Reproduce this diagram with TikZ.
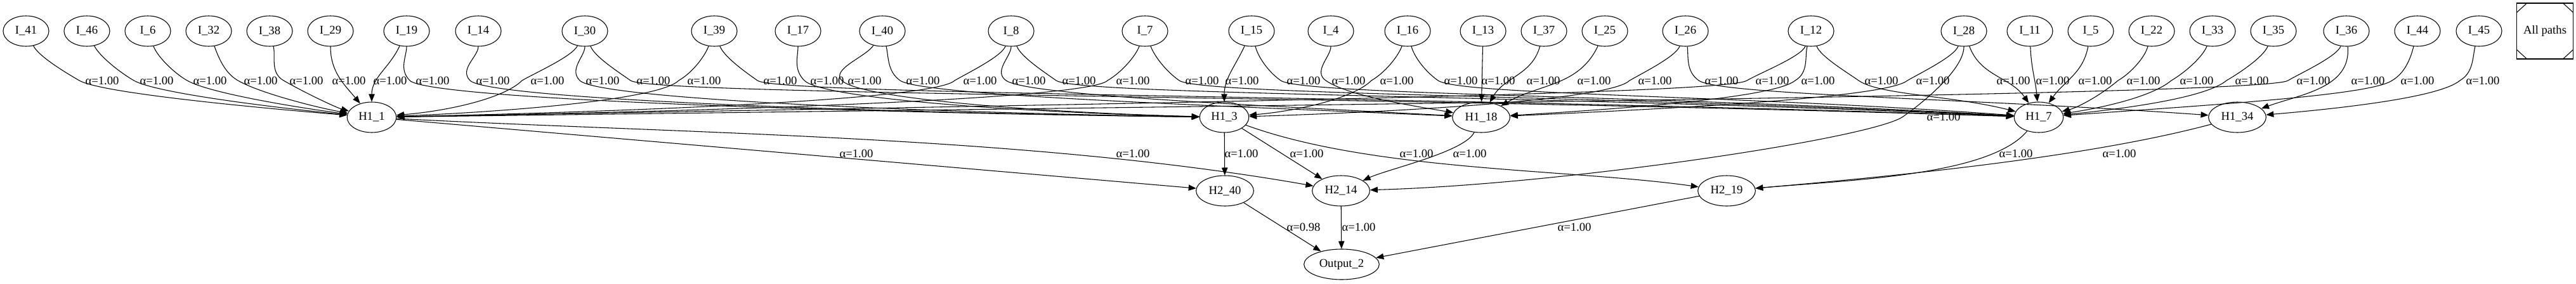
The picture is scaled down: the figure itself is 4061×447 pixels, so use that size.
\documentclass[tikz,border=0pt]{standalone}
\usepackage{fontspec}
\setmainfont{Liberation Serif}
\usetikzlibrary{shapes.geometric,arrows.meta}
\tikzset{
  neuron/.style={draw,ellipse,line width=0.8pt,minimum width=54pt,minimum height=36pt,
    inner xsep=5pt,font=\fontsize{14}{16}\selectfont},
  wlabel/.style={inner sep=0pt,font=\fontsize{14}{16}\selectfont},
  conn/.style={line width=0.8pt,-{Triangle[length=9pt,width=7pt]}},
  pathsbox/.style={draw,line width=0.8pt,minimum width=66.75pt,minimum height=66pt,
    font=\fontsize{14}{16}\selectfont,
    path picture={
      \draw (path picture bounding box.north west) ++(0,-11pt) -- ++(12pt,11pt);
      \draw (path picture bounding box.north east) ++(-12pt,0) -- ++(12pt,-11pt);
      \draw (path picture bounding box.south west) ++(0,11pt) -- ++(12pt,-11pt);
      \draw (path picture bounding box.south east) ++(-12pt,0) -- ++(12pt,11pt);}},
}
\begin{document}
\begin{tikzpicture}[x=0.75pt,y=0.75pt]
  \useasboundingbox (0,0) rectangle (4061,-447);
  % input layer
  \node[neuron] (I41) at (41,-49) {I\_41};
  \node[neuron] (I46) at (137,-49) {I\_46};
  \node[neuron] (I6) at (233,-49) {I\_6};
  \node[neuron] (I32) at (329,-49) {I\_32};
  \node[neuron] (I38) at (425,-49) {I\_38};
  \node[neuron] (I29) at (521,-49) {I\_29};
  \node[neuron] (I19) at (641,-49) {I\_19};
  \node[neuron] (I14) at (754,-49) {I\_14};
  \node[neuron] (I30) at (922,-49) {I\_30};
  \node[neuron] (I39) at (1126,-49) {I\_39};
  \node[neuron] (I17) at (1258,-49) {I\_17};
  \node[neuron] (I40) at (1391,-49) {I\_40};
  \node[neuron] (I8) at (1594,-49) {I\_8};
  \node[neuron] (I7) at (1805,-49) {I\_7};
  \node[neuron] (I15) at (1973,-49) {I\_15};
  \node[neuron] (I4) at (2098,-49) {I\_4};
  \node[neuron] (I16) at (2219,-49) {I\_16};
  \node[neuron] (I13) at (2338,-49) {I\_13};
  \node[neuron] (I37) at (2434,-49) {I\_37};
  \node[neuron] (I25) at (2530,-49) {I\_25};
  \node[neuron] (I26) at (2657,-49) {I\_26};
  \node[neuron] (I12) at (2855,-49) {I\_12};
  \node[neuron] (I28) at (3096,-49) {I\_28};
  \node[neuron] (I11) at (3200,-49) {I\_11};
  \node[neuron] (I5) at (3296,-49) {I\_5};
  \node[neuron] (I22) at (3392,-49) {I\_22};
  \node[neuron] (I33) at (3488,-49) {I\_33};
  \node[neuron] (I35) at (3584,-49) {I\_35};
  \node[neuron] (I36) at (3699,-49) {I\_36};
  \node[neuron] (I44) at (3811,-49) {I\_44};
  \node[neuron] (I45) at (3908,-49) {I\_45};
  \node[pathsbox] (allp) at (4012,-49) {All paths};
  % hidden layers and output
  \node[neuron] (H11) at (586,-185) {H1\_1};
  \node[neuron] (H13) at (1930,-185) {H1\_3};
  \node[neuron] (H118) at (2335,-185) {H1\_18};
  \node[neuron] (H17) at (3214,-185) {H1\_7};
  \node[neuron] (H134) at (3527,-185) {H1\_34};
  \node[neuron] (H240) at (1931,-301) {H2\_40};
  \node[neuron] (H214) at (2114,-301) {H2\_14};
  \node[neuron] (H219) at (2722,-301) {H2\_19};
  \node[neuron] (out2) at (2115,-417) {Output\_2};

  % edges into H1_1
  \draw[conn] (I41) .. controls +(20,-40) and +(150:25) .. (125,-127) .. controls +(-30:40) and +(-180,15) .. (H11);
  \draw[conn] (I46) .. controls +(20,-40) and +(150:25) .. (211,-127) .. controls +(-30:40) and +(-150,15) .. (H11);
  \draw[conn] (I6) .. controls +(15,-40) and +(150:25) .. (295,-127) .. controls +(-30:40) and +(-115,15) .. (H11);
  \draw[conn] (I32) .. controls +(15,-40) and +(150:25) .. (375,-127) .. controls +(-30:40) and +(-85,15) .. (H11);
  \draw[conn] (I38) .. controls +(10,-40) and +(150:25) .. (447,-127) .. controls +(-30:40) and +(-55,15) .. (H11);
  \draw[conn] (I29) to[out=-90,in=130] (H11);
  \draw[conn] (I19) to[out=-115,in=90] (H11);
  \draw[conn] (I30) .. controls +(-20,-40) and +(30:25) .. (823,-127) .. controls +(225:40) and +(120,10) .. (H11);
  \draw[conn] (I39) .. controls +(-15,-40) and +(30:25) .. (1070,-127) .. controls +(225:40) and +(240,10) .. (H11);
  \draw[conn] (I8) .. controls +(-15,-40) and +(30:25) .. (1505,-127) .. controls +(225:40) and +(460,10) .. (H11);
  \draw[conn] (I7) .. controls +(-15,-40) and +(30:25) .. (1746,-127) .. controls +(225:40) and +(580,10) .. (H11);
  \draw[conn] (I12) .. controls +(-15,-40) and +(30:25) .. (2754,-127) .. controls +(215:40) and +(1080,20) .. (H11);
  \draw[conn] (I36) .. controls +(-15,-40) and +(30:25) .. (3607,-127) .. controls +(215:40) and +(1500,20) .. (H11);
  % edges into H1_3
  \draw[conn] (I19) .. controls +(0,-40) and +(135:25) .. (646,-127) .. controls +(-45:40) and +(-640,8) .. (H13);
  \draw[conn] (I14) .. controls +(0,-40) and +(135:25) .. (741,-127) .. controls +(-45:40) and +(-600,8) .. (H13);
  \draw[conn] (I30) .. controls +(0,-40) and +(135:25) .. (914,-127) .. controls +(-45:40) and +(-500,8) .. (H13);
  \draw[conn] (I17) .. controls +(0,-40) and +(135:25) .. (1268,-127) .. controls +(-45:40) and +(-330,8) .. (H13);
  \draw[conn] (I40) .. controls +(-25,-40) and +(135:25) .. (1327,-127) .. controls +(-45:40) and +(-300,8) .. (H13);
  \draw[conn] (I15) to[out=-115,in=90] (H13);
  \draw[conn] (I16) .. controls +(-15,-40) and +(30:25) .. (2162,-127) .. controls +(225:40) and +(115,10) .. (H13);
  \draw[conn] (I26) .. controls +(-15,-40) and +(30:25) .. (2569,-127) .. controls +(225:40) and +(320,10) .. (H13);
  % edges into H1_18
  \draw[conn] (I40) .. controls +(10,-40) and +(145:25) .. (1419,-127) .. controls +(-35:40) and +(-460,20) .. (H118);
  \draw[conn] (I8) .. controls +(0,-40) and +(145:25) .. (1586,-127) .. controls +(-35:40) and +(-375,20) .. (H118);
  \draw[conn] (I4) .. controls +(0,-40) and +(145:25) .. (2090,-127) .. controls +(-35:40) and +(-120,20) .. (H118);
  \draw[conn] (I13) -- (H118);
  \draw[conn] (I37) to[out=-105,in=60] (H118);
  \draw[conn] (I25) to[out=-115,in=30] (H118);
  \draw[conn] (I12) .. controls +(-10,-40) and +(30:25) .. (2830,-127) .. controls +(220:40) and +(250,15) .. (H118);
  \draw[conn] (I28) .. controls +(-15,-40) and +(30:25) .. (3007,-127) .. controls +(220:40) and +(335,15) .. (H118);
  % edges into H1_7
  \draw[conn] (I30) .. controls +(15,-40) and +(145:25) .. (994,-127) .. controls +(-35:40) and +(-1100,35) .. (H17);
  \draw[conn] (I39) .. controls +(15,-40) and +(145:25) .. (1194,-127) .. controls +(-35:40) and +(-1000,35) .. (H17);
  \draw[conn] (I8) .. controls +(15,-40) and +(145:25) .. (1665,-127) .. controls +(-35:40) and +(-770,35) .. (H17);
  \draw[conn] (I7) .. controls +(15,-40) and +(145:25) .. (1859,-127) .. controls +(-35:40) and +(-680,35) .. (H17);
  \draw[conn] (I15) .. controls +(10,-40) and +(145:25) .. (2019,-127) .. controls +(-35:40) and +(-600,35) .. (H17);
  \draw[conn] (I16) .. controls +(10,-40) and +(145:25) .. (2267,-127) .. controls +(-35:40) and +(-470,35) .. (H17);
  \draw[conn] (I12) .. controls +(15,-40) and +(145:25) .. (2930,-127) .. controls +(-35:40) and +(-140,35) .. (H17);
  \draw[conn] (I28) to[out=-70,in=125] (H17);
  \draw[conn] (I11) to[out=-88,in=95] (H17);
  \draw[conn] (I5) to[out=-100,in=55] (H17);
  \draw[conn] (I22) .. controls +(-10,-40) and +(30:25) .. (3339,-127) .. controls +(220:40) and +(60,15) .. (H17);
  \draw[conn] (I33) .. controls +(-15,-40) and +(30:25) .. (3423,-127) .. controls +(220:40) and +(100,15) .. (H17);
  \draw[conn] (I35) .. controls +(-15,-40) and +(30:25) .. (3510,-127) .. controls +(220:40) and +(150,15) .. (H17);
  \draw[conn] (I44) .. controls +(-10,-40) and +(30:25) .. (3771,-127) .. controls +(215:40) and +(280,20) .. (H17);
  % edges into H1_34
  \draw[conn] (I26) .. controls +(5,-40) and +(145:25) .. (2678,-127) .. controls +(-35:40) and +(-420,30) .. (H134);
  \draw[conn] (I36) to[out=-85,in=20] (H134);
  \draw[conn] (I45) .. controls +(-10,-40) and +(30:25) .. (3878,-127) .. controls +(220:40) and +(175,15) .. (H134);
  % second layer and output
  \draw[conn] (I28) .. controls +(0,-60) and +(35:40) .. (3000,-184) .. controls +(215:60) and +(350,10) .. (H214);
  \draw[conn] (H11) -- (H240);
  \draw[conn] (H11) .. controls +(-3:500) and +(170:500) .. (H214);
  \draw[conn] (H13) -- (H240);
  \draw[conn] (H13) -- (H214);
  \draw[conn] (H13) .. controls +(-20:250) and +(172:250) .. (H219);
  \draw[conn] (H118) .. controls +(-115:60) and +(25:80) .. (H214);
  \draw[conn] (H17) .. controls +(-130:120) and +(5:200) .. (H219);
  \draw[conn] (H134) .. controls +(-165:250) and +(5:250) .. (H219);
  \draw[conn] (H240) -- (out2);
  \draw[conn] (H214) -- (out2);
  \draw[conn] (H219) -- (out2);

  % weights
  \node[wlabel] (a1) at (161,-127) {α=1.00};
  \node[wlabel] (a2) at (247,-127) {α=1.00};
  \node[wlabel] (a3) at (331,-127) {α=1.00};
  \node[wlabel] (a4) at (411,-127) {α=1.00};
  \node[wlabel] (a5) at (483,-127) {α=1.00};
  \node[wlabel] (a6) at (550,-127) {α=1.00};
  \node[wlabel] (a7) at (615,-127) {α=1.00};
  \node[wlabel] (a8) at (682,-127) {α=1.00};
  \node[wlabel] (a9) at (777,-127) {α=1.00};
  \node[wlabel] (a10) at (863,-127) {α=1.00};
  \node[wlabel] (a11) at (950,-127) {α=1.00};
  \node[wlabel] (a12) at (1030,-127) {α=1.00};
  \node[wlabel] (a13) at (1110,-127) {α=1.00};
  \node[wlabel] (a14) at (1230,-127) {α=1.00};
  \node[wlabel] (a15) at (1304,-127) {α=1.00};
  \node[wlabel] (a16) at (1363,-127) {α=1.00};
  \node[wlabel] (a17) at (1455,-127) {α=1.00};
  \node[wlabel] (a18) at (1545,-127) {α=1.00};
  \node[wlabel] (a19) at (1622,-127) {α=1.00};
  \node[wlabel] (a20) at (1701,-127) {α=1.00};
  \node[wlabel] (a21) at (1786,-127) {α=1.00};
  \node[wlabel] (a22) at (1895,-127) {α=1.00};
  \node[wlabel] (a23) at (1958,-127) {α=1.00};
  \node[wlabel] (a24) at (2055,-127) {α=1.00};
  \node[wlabel] (a25) at (2126,-127) {α=1.00};
  \node[wlabel] (a26) at (2202,-127) {α=1.00};
  \node[wlabel] (a27) at (2303,-127) {α=1.00};
  \node[wlabel] (a28) at (2362,-127) {α=1.00};
  \node[wlabel] (a29) at (2433,-127) {α=1.00};
  \node[wlabel] (a30) at (2513,-127) {α=1.00};
  \node[wlabel] (a31) at (2609,-127) {α=1.00};
  \node[wlabel] (a32) at (2714,-127) {α=1.00};
  \node[wlabel] (a33) at (2794,-127) {α=1.00};
  \node[wlabel] (a34) at (2866,-127) {α=1.00};
  \node[wlabel] (a35) at (2966,-127) {α=1.00};
  \node[wlabel] (a36) at (3047,-127) {α=1.00};
  \node[wlabel] (a37) at (3174,-127) {α=1.00};
  \node[wlabel] (a38) at (3236,-127) {α=1.00};
  \node[wlabel] (a39) at (3303,-127) {α=1.00};
  \node[wlabel] (a40) at (3379,-127) {α=1.00};
  \node[wlabel] (a41) at (3463,-127) {α=1.00};
  \node[wlabel] (a42) at (3550,-127) {α=1.00};
  \node[wlabel] (a43) at (3647,-127) {α=1.00};
  \node[wlabel] (a44) at (3733,-127) {α=1.00};
  \node[wlabel] (a45) at (3811,-127) {α=1.00};
  \node[wlabel] (a46) at (3914,-127) {α=1.00};
  \node[wlabel] (a47) at (3064,-184) {α=1.00};
  \node[wlabel] (a48) at (1350,-242) {α=1.00};
  \node[wlabel] (a49) at (1786,-242) {α=1.00};
  \node[wlabel] (a50) at (1957,-242) {α=1.00};
  \node[wlabel] (a51) at (2060,-242) {α=1.00};
  \node[wlabel] (a52) at (2233,-242) {α=1.00};
  \node[wlabel] (a53) at (2317,-242) {α=1.00};
  \node[wlabel] (a54) at (3178,-242) {α=1.00};
  \node[wlabel] (a55) at (3341,-242) {α=1.00};
  \node[wlabel] (a56) at (2055,-358) {α=0.98};
  \node[wlabel] (a57) at (2142,-358) {α=1.00};
  \node[wlabel] (a58) at (2482,-358) {α=1.00};
\end{tikzpicture}
\end{document}
